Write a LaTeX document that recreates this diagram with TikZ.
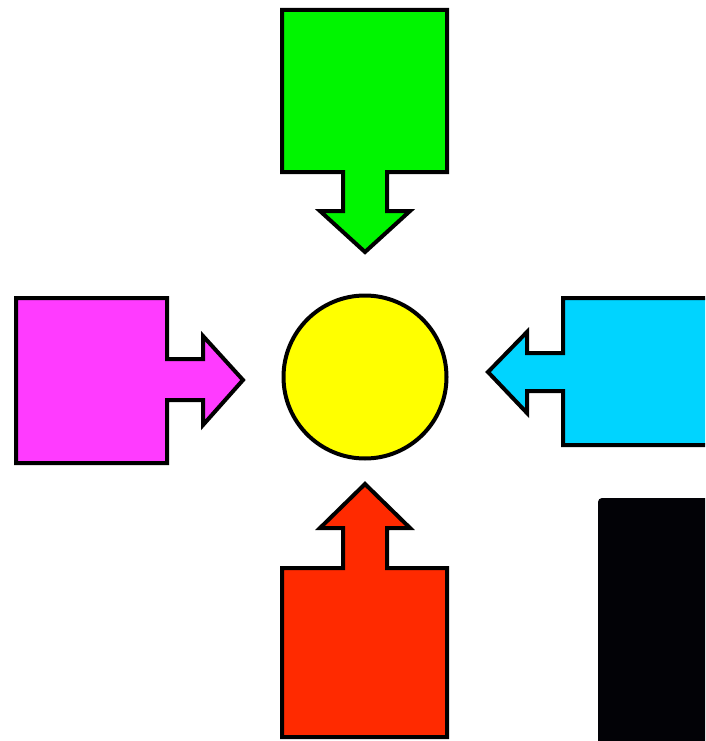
\documentclass[tikz,border=0pt]{standalone}
\usepackage{tikz}
\usetikzlibrary{positioning}

\definecolor{topgreen}{HTML}{00F500}
\definecolor{leftmagenta}{HTML}{FF3BFF}
\definecolor{rightcyan}{HTML}{00D4FF}
\definecolor{bottomred}{HTML}{FF2A00}
\definecolor{hubyellow}{HTML}{FFFF00}
\definecolor{darkpanel}{HTML}{020206}

\begin{document}
\begin{tikzpicture}[x=1pt,y=-1pt,line width=4pt]
\useasboundingbox (0,0) rectangle (705,741);
\clip (0,0) rectangle (705,741);

% the four boxes, each pushing an arrow towards the middle
\filldraw[fill=topgreen] (282,10) -- (447,10) -- (447,172) -- (387,172) -- (387,211) -- (410,211) -- (365,252) -- (320,211) -- (343,211) -- (343,172) -- (282,172) -- cycle;
\filldraw[fill=leftmagenta] (16,298) -- (167,298) -- (167,359) -- (203,359) -- (203,336) -- (243,380) -- (203,425) -- (203,400) -- (167,400) -- (167,463) -- (16,463) -- cycle;
\filldraw[fill=rightcyan] (725,298) -- (563,298) -- (563,353) -- (527,353) -- (527,332) -- (488,372) -- (527,413) -- (527,391) -- (563,391) -- (563,445) -- (725,445) -- cycle;
\filldraw[fill=bottomred] (282,737) -- (447,737) -- (447,568) -- (387,568) -- (387,528) -- (410,528) -- (365,484) -- (320,528) -- (343,528) -- (343,568) -- (282,568) -- cycle;

\node[circle,draw,fill=hubyellow,minimum size=163pt,inner sep=0pt] (hub) at (365,377) {};

% dark panel in the lower right corner
\fill[darkpanel,rounded corners=4pt] (598,498) rectangle (715,750);
\end{tikzpicture}
\end{document}
